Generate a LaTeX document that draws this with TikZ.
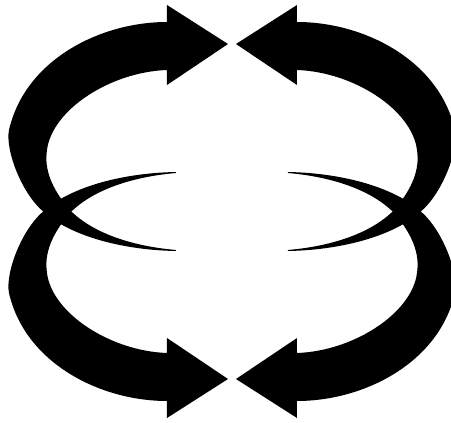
\documentclass[tikz,border=0pt]{standalone}
% one curved arrow with tapering tail (top left copy, pixel units)
\newcommand{\loopArrow}{%
  \fill[arrowink] (176,250) .. controls (130,246) and (90,232) .. (68,208)
    .. controls (52,188) and (44,170) .. (47,150)
    .. controls (52,110) and (110,72) .. (167,70)
    -- (167,85) -- (228,44) -- (167,5) -- (167,22)
    .. controls (100,22) and (25,60) .. (9,130)
    .. controls (5,150) and (22,195) .. (45,213)
    .. controls (70,235) and (120,250) .. (176,251) -- cycle;}
\begin{document}
\begin{tikzpicture}[
    % pixel units, y pointing down
    x=0.02cm, y=-0.02cm,
    arrowink/.style={fill=black}
  ]
  \useasboundingbox (0,0) rectangle (451,423);

  % upper pair
  \loopArrow
  \begin{scope}[shift={(464,0)}, xscale=-1]
    \loopArrow
  \end{scope}

  % lower pair, mirrored
  \begin{scope}[shift={(0,423)}, yscale=-1]
    \loopArrow
  \end{scope}
  \begin{scope}[shift={(464,423)}, xscale=-1, yscale=-1]
    \loopArrow
  \end{scope}
\end{tikzpicture}
\end{document}
